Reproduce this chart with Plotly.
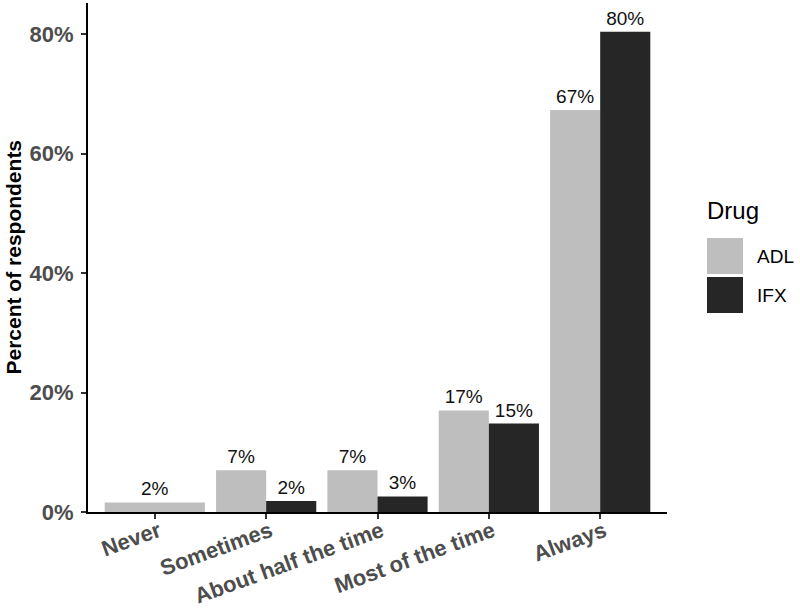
import plotly.graph_objects as go

# survey answers, percent of respondents per drug
categories = ["Never", "Sometimes", "About half the time", "Most of the time", "Always"]
adl = [1.6, 7.0, 7.0, 17.0, 67.3]
ifx = [None, 1.84, 2.6, 14.8, 80.4]
drugs = ["ADL", "IFX"]
colors = ["#bebebe", "#262626"]
y_ticks = [0, 20, 40, 60, 80]
y_tick_text = ["0%", "20%", "40%", "60%", "80%"]

FONT = "Liberation Sans, Arial, Helvetica, sans-serif"


def pct_label(v):
    return "" if v is None else f"{round(v)}%"


# dodge like ggplot: a lone bar takes the full slot
adl_width = [0.9 if b is None else 0.45 for b in ifx]
ifx_width = [0.45 for _ in ifx]

fig = go.Figure()
fig.add_trace(go.Bar(
    x=categories, y=adl, name=drugs[0],
    marker=dict(color=colors[0], line=dict(width=0)),
    width=adl_width, offset=-0.45,
    text=[pct_label(v) for v in adl], textposition="outside",
    textfont=dict(family=FONT, size=19, color="#111111"),
    cliponaxis=False, showlegend=False,
))
fig.add_trace(go.Bar(
    x=categories, y=ifx, name=drugs[1],
    marker=dict(color=colors[1], line=dict(width=0)),
    width=ifx_width, offset=0,
    text=[pct_label(v) for v in ifx], textposition="outside",
    textfont=dict(family=FONT, size=19, color="#111111"),
    cliponaxis=False, showlegend=False,
))

fig.update_layout(
    width=800, height=611,
    margin=dict(l=88, r=133, t=3, b=99, autoexpand=False),
    barmode="overlay",
    plot_bgcolor="white", paper_bgcolor="white",
    font=dict(family=FONT),
)

fig.update_xaxes(
    range=[-0.6, 4.6], showgrid=False, zeroline=False, automargin=False,
    showline=True, linecolor="black", linewidth=2,
    ticks="outside", ticklen=5, tickwidth=1.5, tickcolor="#333333",
    tickangle=-20, ticklabelstandoff=-9, ticklabelshift=4,
    tickfont=dict(family=FONT, size=22, color="#4d4d4d", weight="bold"),
)
fig.update_yaxes(
    range=[0, 85.2], showgrid=False, zeroline=False, automargin=False,
    showline=True, linecolor="black", linewidth=2,
    tickvals=y_ticks, ticktext=y_tick_text,
    ticks="outside", ticklen=5, tickwidth=1.5, tickcolor="#333333",
    ticklabelstandoff=3,
    tickfont=dict(family=FONT, size=22, color="#4d4d4d", weight="bold"),
)

# legend and y title placed by pixel, ggplot style
plot_w, plot_h = 800 - 88 - 133, 611 - 3 - 99


def px_x(px):
    return (px - 88) / plot_w


def px_y(py):
    return (611 - 99 - py) / plot_h


fig.add_annotation(
    xref="paper", yref="paper", x=px_x(13), y=0.5, textangle=-90,
    xanchor="center", yanchor="middle", text="<b>Percent of respondents</b>",
    showarrow=False, font=dict(family=FONT, size=21, color="black"),
)

fig.add_annotation(
    xref="paper", yref="paper", x=px_x(705), y=px_y(226),
    xanchor="left", yanchor="bottom", text="Drug", showarrow=False,
    font=dict(family=FONT, size=24, color="black"),
)
for i, (drug, col) in enumerate(zip(drugs, colors)):
    top = 238 + i * 39
    fig.add_shape(
        type="rect", xref="paper", yref="paper",
        x0=px_x(707), x1=px_x(743), y0=px_y(top), y1=px_y(top + 36),
        fillcolor=col, line=dict(width=0),
    )
    fig.add_annotation(
        xref="paper", yref="paper", x=px_x(755), y=px_y(top + 18),
        xanchor="left", yanchor="middle", text=drug, showarrow=False,
        font=dict(family=FONT, size=19, color="black"),
    )

fig.write_html("out.html", config={"displayModeBar": False},
               post_script="document.body.style.margin='0px';")
